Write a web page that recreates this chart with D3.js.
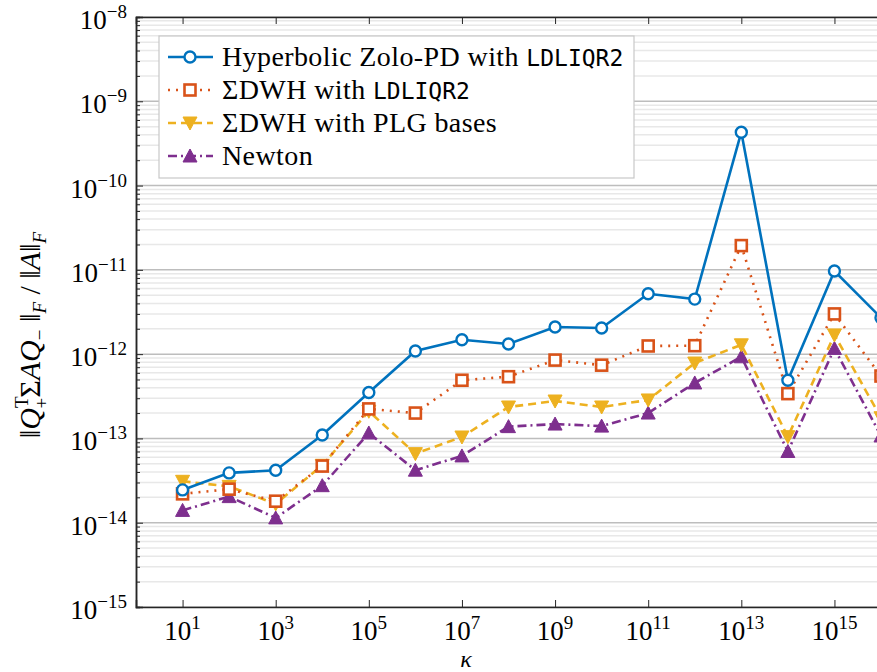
<!DOCTYPE html>
<html>
<head>
<meta charset="utf-8">
<script src="https://cdn.jsdelivr.net/npm/d3@7"></script>
<style>
body { margin: 0; background: #fff; }
svg text { font-family: "Liberation Serif", "DejaVu Serif", serif; fill: #000; }
.mono { font-family: "DejaVu Sans Mono", "Liberation Mono", monospace; }
</style>
</head>
<body>
<div class="chart"></div>
<script>
// kappa exponents, x = 10^k
var kappaExp = [1, 2, 3, 4, 5, 6, 7, 8, 9, 10, 11, 12, 13, 14, 15, 16];

var zoloPD = [2.45e-14, 3.9e-14, 4.2e-14, 1.1e-13, 3.5e-13, 1.09e-12, 1.48e-12, 1.32e-12,
  2.1e-12, 2.04e-12, 5.2e-12, 4.5e-12, 4.3e-10, 4.9e-13, 9.7e-12, 2.7e-12];
var dwhLdl = [2.2e-14, 2.5e-14, 1.8e-14, 4.7e-14, 2.24e-13, 2.0e-13, 4.9e-13, 5.4e-13,
  8.5e-13, 7.4e-13, 1.25e-12, 1.26e-12, 1.94e-11, 3.4e-13, 3.0e-12, 5.5e-13];
var dwhPlg = [3.1e-14, 2.7e-14, 1.67e-14, 4.8e-14, 2.1e-13, 6.6e-14, 1.04e-13, 2.36e-13,
  2.78e-13, 2.36e-13, 2.86e-13, 7.85e-13, 1.29e-12, 1.05e-13, 1.69e-12, 1.76e-13];
var newton = [1.4e-14, 2.04e-14, 1.14e-14, 2.75e-14, 1.16e-13, 4.2e-14, 6.2e-14, 1.38e-13,
  1.48e-13, 1.4e-13, 2.0e-13, 4.55e-13, 9.3e-13, 7.0e-14, 1.17e-12, 1.07e-13];

var xTickExp = [1, 3, 5, 7, 9, 11, 13, 15];
var yTickExp = [-15, -14, -13, -12, -11, -10, -9, -8];

var series = [
  {name: "zolo", values: zoloPD, color: "#0072BD", dash: null, marker: "circle"},
  {name: "ldl", values: dwhLdl, color: "#D95319", dash: "2,6", marker: "square"},
  {name: "plg", values: dwhPlg, color: "#EDB120", dash: "8,5", marker: "down"},
  {name: "newton", values: newton, color: "#7E2F8E", dash: "9,4,2,4", marker: "up"}
];

var svgWidth = 877;
var svgHeight = 672;
var margin = {top: 17, left: 136, bottom: 607, right: 881};

var svg = d3.select(".chart").append("svg")
  .attr("width", svgWidth)
  .attr("height", svgHeight);

var x = d3.scaleLog().domain([1, 1e16]).range([margin.left, margin.right]);
var y = d3.scaleLog().domain([1e-15, 1e-8]).range([margin.bottom, margin.top]);

// grid lines (minor then major)
var minorVals = [];
yTickExp.forEach(function(e) {
  if (e === -8) return;
  for (var m = 2; m <= 9; m++) minorVals.push(m * Math.pow(10, e));
});
svg.append("g").selectAll("line").data(minorVals).enter().append("line")
  .attr("x1", margin.left).attr("x2", margin.right)
  .attr("y1", d => y(d)).attr("y2", d => y(d))
  .attr("stroke", "#e8e8e8").attr("stroke-width", 1.5);
svg.append("g").selectAll("line").data(yTickExp).enter().append("line")
  .attr("x1", margin.left).attr("x2", margin.right)
  .attr("y1", d => y(Math.pow(10, d))).attr("y2", d => y(Math.pow(10, d)))
  .attr("stroke", "#bdbdbd").attr("stroke-width", 1.5);

// axes with inward ticks
var leftAxis = d3.axisRight(y).tickValues(yTickExp.map(e => Math.pow(10, e))).tickSize(7).tickFormat("");
var leftMinor = d3.axisRight(y).tickValues(minorVals).tickSize(4).tickFormat("");
var bottomAxis = d3.axisTop(x).tickValues(xTickExp.map(e => Math.pow(10, e))).tickSize(7).tickFormat("");
var topAxis = d3.axisBottom(x).tickValues(xTickExp.map(e => Math.pow(10, e))).tickSize(7).tickFormat("");

svg.append("g").attr("transform", "translate(" + margin.left + ",0)").call(leftAxis);
svg.append("g").attr("transform", "translate(" + margin.left + ",0)").call(leftMinor);
svg.append("g").attr("transform", "translate(0," + margin.bottom + ")").call(bottomAxis);
svg.append("g").attr("transform", "translate(0," + margin.top + ")").call(topAxis);
svg.selectAll(".domain").attr("stroke", "#262626").attr("stroke-width", 1.5);
svg.selectAll(".tick line").attr("stroke", "#262626").attr("stroke-width", 1);

// tick labels
xTickExp.forEach(function(e) {
  var t = svg.append("text")
    .attr("x", x(Math.pow(10, e)))
    .attr("y", 640)
    .attr("text-anchor", "middle")
    .attr("font-size", "27px");
  t.append("tspan").text("10");
  t.append("tspan").attr("dy", -11).attr("font-size", "19px").text(e);
});
yTickExp.forEach(function(e) {
  var t = svg.append("text")
    .attr("x", 127)
    .attr("y", y(Math.pow(10, e)) + 12)
    .attr("text-anchor", "end")
    .attr("font-size", "27px");
  t.append("tspan").text("10");
  t.append("tspan").attr("dy", -11).attr("font-size", "19px").text("\u2212" + (-e));
});

// axis labels
svg.append("text")
  .attr("x", 466).attr("y", 667)
  .attr("text-anchor", "middle")
  .attr("font-size", "24px")
  .attr("font-style", "italic")
  .text("\u03ba");

var yl = svg.append("text")
  .attr("transform", "translate(40,335) rotate(-90)")
  .attr("text-anchor", "middle")
  .attr("font-size", "30px");
yl.append("tspan").text("\u2016");
yl.append("tspan").attr("font-style", "italic").text("Q");
yl.append("tspan").attr("font-size", "19px").attr("dy", -12).text("T");
yl.append("tspan").attr("font-size", "19px").attr("dx", -12).attr("dy", 20).text("+");
yl.append("tspan").attr("dy", -8).text("\u03a3");
yl.append("tspan").attr("font-style", "italic").text("AQ");
yl.append("tspan").attr("font-size", "19px").attr("dy", 6).text("\u2212");
yl.append("tspan").attr("dy", -6).text(" \u2016");
yl.append("tspan").attr("font-size", "19px").attr("font-style", "italic").attr("dy", 6).text("F");
yl.append("tspan").attr("dy", -6).text(" / \u2016");
yl.append("tspan").attr("font-style", "italic").text("A");
yl.append("tspan").text("\u2016");
yl.append("tspan").attr("font-size", "19px").attr("font-style", "italic").attr("dy", 6).text("F");

// markers
function drawMarker(g, type, color, cx, cy) {
  if (type === "circle") {
    g.append("circle").attr("cx", cx).attr("cy", cy).attr("r", 5.5)
      .attr("fill", "#fff").attr("stroke", color).attr("stroke-width", 2.4);
  } else if (type === "square") {
    g.append("rect").attr("x", cx - 5.5).attr("y", cy - 5.5).attr("width", 11).attr("height", 11)
      .attr("fill", "#fff").attr("stroke", color).attr("stroke-width", 2.6);
  } else if (type === "down") {
    g.append("path").attr("d", "M" + (cx - 7) + "," + (cy - 6) + "L" + (cx + 7) + "," + (cy - 6) + "L" + cx + "," + (cy + 7) + "Z")
      .attr("fill", color).attr("stroke", color).attr("stroke-width", 1);
  } else {
    g.append("path").attr("d", "M" + (cx - 7) + "," + (cy + 6) + "L" + (cx + 7) + "," + (cy + 6) + "L" + cx + "," + (cy - 7) + "Z")
      .attr("fill", color).attr("stroke", color).attr("stroke-width", 1);
  }
}

svg.append("defs").append("clipPath").attr("id", "plotclip")
  .append("rect").attr("x", margin.left).attr("y", margin.top)
  .attr("width", margin.right - margin.left).attr("height", margin.bottom - margin.top);

var plot = svg.append("g").attr("clip-path", "url(#plotclip)");

var line = d3.line()
  .x((d, i) => x(Math.pow(10, kappaExp[i])))
  .y(d => y(d));

series.slice().reverse().forEach(function(s) {
  plot.append("path")
    .attr("d", line(s.values))
    .attr("fill", "none")
    .attr("stroke", s.color)
    .attr("stroke-width", 2.6)
    .attr("stroke-dasharray", s.dash);
  var mg = plot.append("g");
  s.values.forEach(function(v, i) {
    drawMarker(mg, s.marker, s.color, x(Math.pow(10, kappaExp[i])), y(v));
  });
});

// legend
var legend = svg.append("g");
legend.append("rect")
  .attr("x", 159).attr("y", 36).attr("width", 475).attr("height", 142)
  .attr("fill", "#fff").attr("stroke", "#c8c8c8").attr("stroke-width", 1.2);
var labels = [
  ["Hyperbolic Zolo-PD with ", "LDLIQR2"],
  ["\u03a3DWH with ", "LDLIQR2"],
  ["\u03a3DWH with PLG bases", null],
  ["Newton", null]
];
series.forEach(function(s, i) {
  var ly = 57 + i * 33;
  legend.append("line")
    .attr("x1", 168).attr("x2", 213).attr("y1", ly).attr("y2", ly)
    .attr("stroke", s.color).attr("stroke-width", 2.6)
    .attr("stroke-dasharray", s.dash);
  drawMarker(legend, s.marker, s.color, 190, ly);
  var t = legend.append("text")
    .attr("x", 222).attr("y", ly + 9)
    .attr("font-size", "28px")
    .attr("letter-spacing", "0.4px");
  t.append("tspan").text(labels[i][0]);
  if (labels[i][1]) t.append("tspan").attr("class", "mono").attr("font-size", "23px").attr("letter-spacing", "0px").text(labels[i][1]);
});
</script>
</body>
</html>
